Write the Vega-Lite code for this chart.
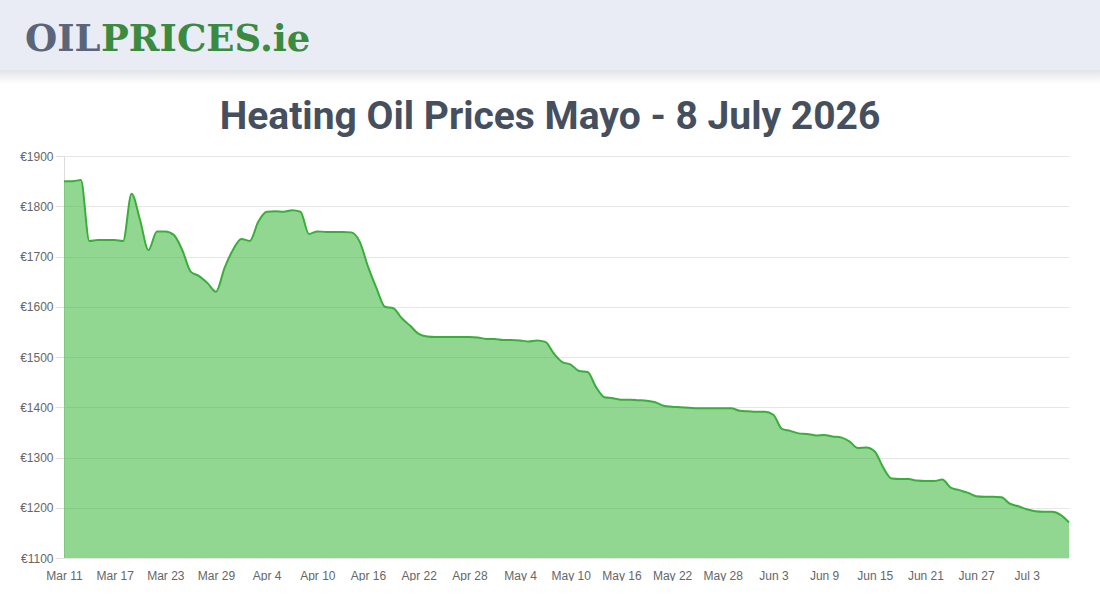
{
  "$schema": "https://vega.github.io/schema/vega-lite/v6.json",
  "background": "white",
  "padding": 0,
  "spacing": 0,
  "config": {
    "view": {"stroke": null},
    "axis": {
      "labelFont": "Liberation Sans",
      "labelFontSize": 12,
      "labelColor": "#666666",
      "title": null
    }
  },
  "vconcat": [
    {
      "width": 1100,
      "height": 70,
      "data": {"values": [{"lead": "OIL", "rest": "PRICES.ie"}]},
      "layer": [
        {"mark": {"type": "rect", "color": "#e9ecf4"}, "encoding": {}},
        {
          "mark": {
            "type": "text",
            "align": "left",
            "baseline": "alphabetic",
            "dx": -525,
            "dy": 16,
            "font": "DejaVu Serif",
            "fontSize": 37,
            "fontWeight": "bold",
            "color": "#5b6579"
          },
          "encoding": {"text": {"field": "lead"}}
        },
        {
          "mark": {
            "type": "text",
            "align": "left",
            "baseline": "alphabetic",
            "dx": -449,
            "dy": 16,
            "font": "DejaVu Serif",
            "fontSize": 37,
            "fontWeight": "bold",
            "color": "#3a8b3f"
          },
          "encoding": {"text": {"field": "rest"}}
        }
      ]
    },
    {
      "width": 1100,
      "height": 28,
      "data": {"values": [{"band": "shadow"}]},
      "mark": {
        "type": "rect",
        "fill": {
          "gradient": "linear",
          "x1": 0, "y1": 0, "x2": 0, "y2": 1,
          "stops": [
            {"offset": 0, "color": "#e2e4e9"},
            {"offset": 0.5, "color": "#ffffff"},
            {"offset": 1, "color": "#ffffff"}
          ]
        }
      },
      "encoding": {}
    },
    {
      "width": 1100,
      "height": 402,
      "title": {
        "text": "Heating Oil Prices Mayo - 8 July 2026",
        "anchor": "middle",
        "frame": "group",
        "offset": 13,
        "font": "Roboto",
        "fontSize": 39,
        "fontWeight": "bold",
        "color": "#454f5e"
      },
      "data": {
        "values": [
          {"date": "2026-03-11", "price": 1850},
          {"date": "2026-03-12", "price": 1850},
          {"date": "2026-03-13", "price": 1852},
          {"date": "2026-03-14", "price": 1731},
          {"date": "2026-03-15", "price": 1733},
          {"date": "2026-03-16", "price": 1733},
          {"date": "2026-03-17", "price": 1733},
          {"date": "2026-03-18", "price": 1731},
          {"date": "2026-03-19", "price": 1825},
          {"date": "2026-03-20", "price": 1773},
          {"date": "2026-03-21", "price": 1713},
          {"date": "2026-03-22", "price": 1750},
          {"date": "2026-03-23", "price": 1750},
          {"date": "2026-03-24", "price": 1743},
          {"date": "2026-03-25", "price": 1713},
          {"date": "2026-03-26", "price": 1670},
          {"date": "2026-03-27", "price": 1661},
          {"date": "2026-03-28", "price": 1647},
          {"date": "2026-03-29", "price": 1630},
          {"date": "2026-03-30", "price": 1677},
          {"date": "2026-03-31", "price": 1713},
          {"date": "2026-04-01", "price": 1735},
          {"date": "2026-04-02", "price": 1731},
          {"date": "2026-04-03", "price": 1769},
          {"date": "2026-04-04", "price": 1789},
          {"date": "2026-04-05", "price": 1790},
          {"date": "2026-04-06", "price": 1789},
          {"date": "2026-04-07", "price": 1792},
          {"date": "2026-04-08", "price": 1789},
          {"date": "2026-04-09", "price": 1745},
          {"date": "2026-04-10", "price": 1750},
          {"date": "2026-04-11", "price": 1749},
          {"date": "2026-04-12", "price": 1749},
          {"date": "2026-04-13", "price": 1749},
          {"date": "2026-04-14", "price": 1748},
          {"date": "2026-04-15", "price": 1730},
          {"date": "2026-04-16", "price": 1680},
          {"date": "2026-04-17", "price": 1637},
          {"date": "2026-04-18", "price": 1600},
          {"date": "2026-04-19", "price": 1597},
          {"date": "2026-04-20", "price": 1577},
          {"date": "2026-04-21", "price": 1562},
          {"date": "2026-04-22", "price": 1546},
          {"date": "2026-04-23", "price": 1541},
          {"date": "2026-04-24", "price": 1540},
          {"date": "2026-04-25", "price": 1540},
          {"date": "2026-04-26", "price": 1540},
          {"date": "2026-04-27", "price": 1540},
          {"date": "2026-04-28", "price": 1540},
          {"date": "2026-04-29", "price": 1539},
          {"date": "2026-04-30", "price": 1536},
          {"date": "2026-05-01", "price": 1536},
          {"date": "2026-05-02", "price": 1534},
          {"date": "2026-05-03", "price": 1534},
          {"date": "2026-05-04", "price": 1533},
          {"date": "2026-05-05", "price": 1531},
          {"date": "2026-05-06", "price": 1533},
          {"date": "2026-05-07", "price": 1530},
          {"date": "2026-05-08", "price": 1507},
          {"date": "2026-05-09", "price": 1490},
          {"date": "2026-05-10", "price": 1485},
          {"date": "2026-05-11", "price": 1472},
          {"date": "2026-05-12", "price": 1470},
          {"date": "2026-05-13", "price": 1440},
          {"date": "2026-05-14", "price": 1420},
          {"date": "2026-05-15", "price": 1418},
          {"date": "2026-05-16", "price": 1415},
          {"date": "2026-05-17", "price": 1415},
          {"date": "2026-05-18", "price": 1414},
          {"date": "2026-05-19", "price": 1413},
          {"date": "2026-05-20", "price": 1410},
          {"date": "2026-05-21", "price": 1403},
          {"date": "2026-05-22", "price": 1401},
          {"date": "2026-05-23", "price": 1400},
          {"date": "2026-05-24", "price": 1399},
          {"date": "2026-05-25", "price": 1398},
          {"date": "2026-05-26", "price": 1398},
          {"date": "2026-05-27", "price": 1398},
          {"date": "2026-05-28", "price": 1398},
          {"date": "2026-05-29", "price": 1398},
          {"date": "2026-05-30", "price": 1393},
          {"date": "2026-05-31", "price": 1392},
          {"date": "2026-06-01", "price": 1391},
          {"date": "2026-06-02", "price": 1391},
          {"date": "2026-06-03", "price": 1385},
          {"date": "2026-06-04", "price": 1357},
          {"date": "2026-06-05", "price": 1353},
          {"date": "2026-06-06", "price": 1348},
          {"date": "2026-06-07", "price": 1347},
          {"date": "2026-06-08", "price": 1344},
          {"date": "2026-06-09", "price": 1345},
          {"date": "2026-06-10", "price": 1342},
          {"date": "2026-06-11", "price": 1340},
          {"date": "2026-06-12", "price": 1332},
          {"date": "2026-06-13", "price": 1319},
          {"date": "2026-06-14", "price": 1320},
          {"date": "2026-06-15", "price": 1312},
          {"date": "2026-06-16", "price": 1280},
          {"date": "2026-06-17", "price": 1258},
          {"date": "2026-06-18", "price": 1257},
          {"date": "2026-06-19", "price": 1257},
          {"date": "2026-06-20", "price": 1254},
          {"date": "2026-06-21", "price": 1253},
          {"date": "2026-06-22", "price": 1253},
          {"date": "2026-06-23", "price": 1256},
          {"date": "2026-06-24", "price": 1240},
          {"date": "2026-06-25", "price": 1235},
          {"date": "2026-06-26", "price": 1230},
          {"date": "2026-06-27", "price": 1223},
          {"date": "2026-06-28", "price": 1222},
          {"date": "2026-06-29", "price": 1222},
          {"date": "2026-06-30", "price": 1221},
          {"date": "2026-07-01", "price": 1208},
          {"date": "2026-07-02", "price": 1203},
          {"date": "2026-07-03", "price": 1197},
          {"date": "2026-07-04", "price": 1193},
          {"date": "2026-07-05", "price": 1192},
          {"date": "2026-07-06", "price": 1192},
          {"date": "2026-07-07", "price": 1186},
          {"date": "2026-07-08", "price": 1171}
        ]
      },
      "encoding": {
        "x": {
          "field": "date",
          "type": "temporal",
          "scale": {"type": "utc", "nice": false, "range": [64, 1069]},
          "axis": {
            "values": [
              {"year": 2026, "month": 3, "date": 11, "utc": true},
              {"year": 2026, "month": 3, "date": 17, "utc": true},
              {"year": 2026, "month": 3, "date": 23, "utc": true},
              {"year": 2026, "month": 3, "date": 29, "utc": true},
              {"year": 2026, "month": 4, "date": 4, "utc": true},
              {"year": 2026, "month": 4, "date": 10, "utc": true},
              {"year": 2026, "month": 4, "date": 16, "utc": true},
              {"year": 2026, "month": 4, "date": 22, "utc": true},
              {"year": 2026, "month": 4, "date": 28, "utc": true},
              {"year": 2026, "month": 5, "date": 4, "utc": true},
              {"year": 2026, "month": 5, "date": 10, "utc": true},
              {"year": 2026, "month": 5, "date": 16, "utc": true},
              {"year": 2026, "month": 5, "date": 22, "utc": true},
              {"year": 2026, "month": 5, "date": 28, "utc": true},
              {"year": 2026, "month": 6, "date": 3, "utc": true},
              {"year": 2026, "month": 6, "date": 9, "utc": true},
              {"year": 2026, "month": 6, "date": 15, "utc": true},
              {"year": 2026, "month": 6, "date": 21, "utc": true},
              {"year": 2026, "month": 6, "date": 27, "utc": true},
              {"year": 2026, "month": 7, "date": 3, "utc": true}
            ],
            "labelExpr": "utcFormat(datum.value, '%b %-d')",
            "grid": false,
            "domain": false,
            "ticks": false,
            "labelPadding": 12,
            "labelAngle": 0,
            "labelOverlap": false,
            "labelFlush": false
          }
        },
        "y": {
          "field": "price",
          "type": "quantitative",
          "stack": null,
          "scale": {"domain": [1100, 1900], "nice": false, "zero": false},
          "axis": {
            "values": [1100, 1200, 1300, 1400, 1500, 1600, 1700, 1800, 1900],
            "labelExpr": "'€' + datum.value",
            "offset": -64,
            "tickSize": 9,
            "tickColor": "#e0e0e0",
            "domainColor": "#dcdcdc",
            "gridColor": "#e6e6e6",
            "labelPadding": 2
          }
        }
      },
      "layer": [
        {"mark": {"type": "area", "interpolate": "monotone", "color": "#37b437", "fillOpacity": 0.55, "clip": true}},
        {"mark": {"type": "line", "interpolate": "monotone", "color": "#3aae3a", "strokeWidth": 2}}
      ]
    }
  ]
}
